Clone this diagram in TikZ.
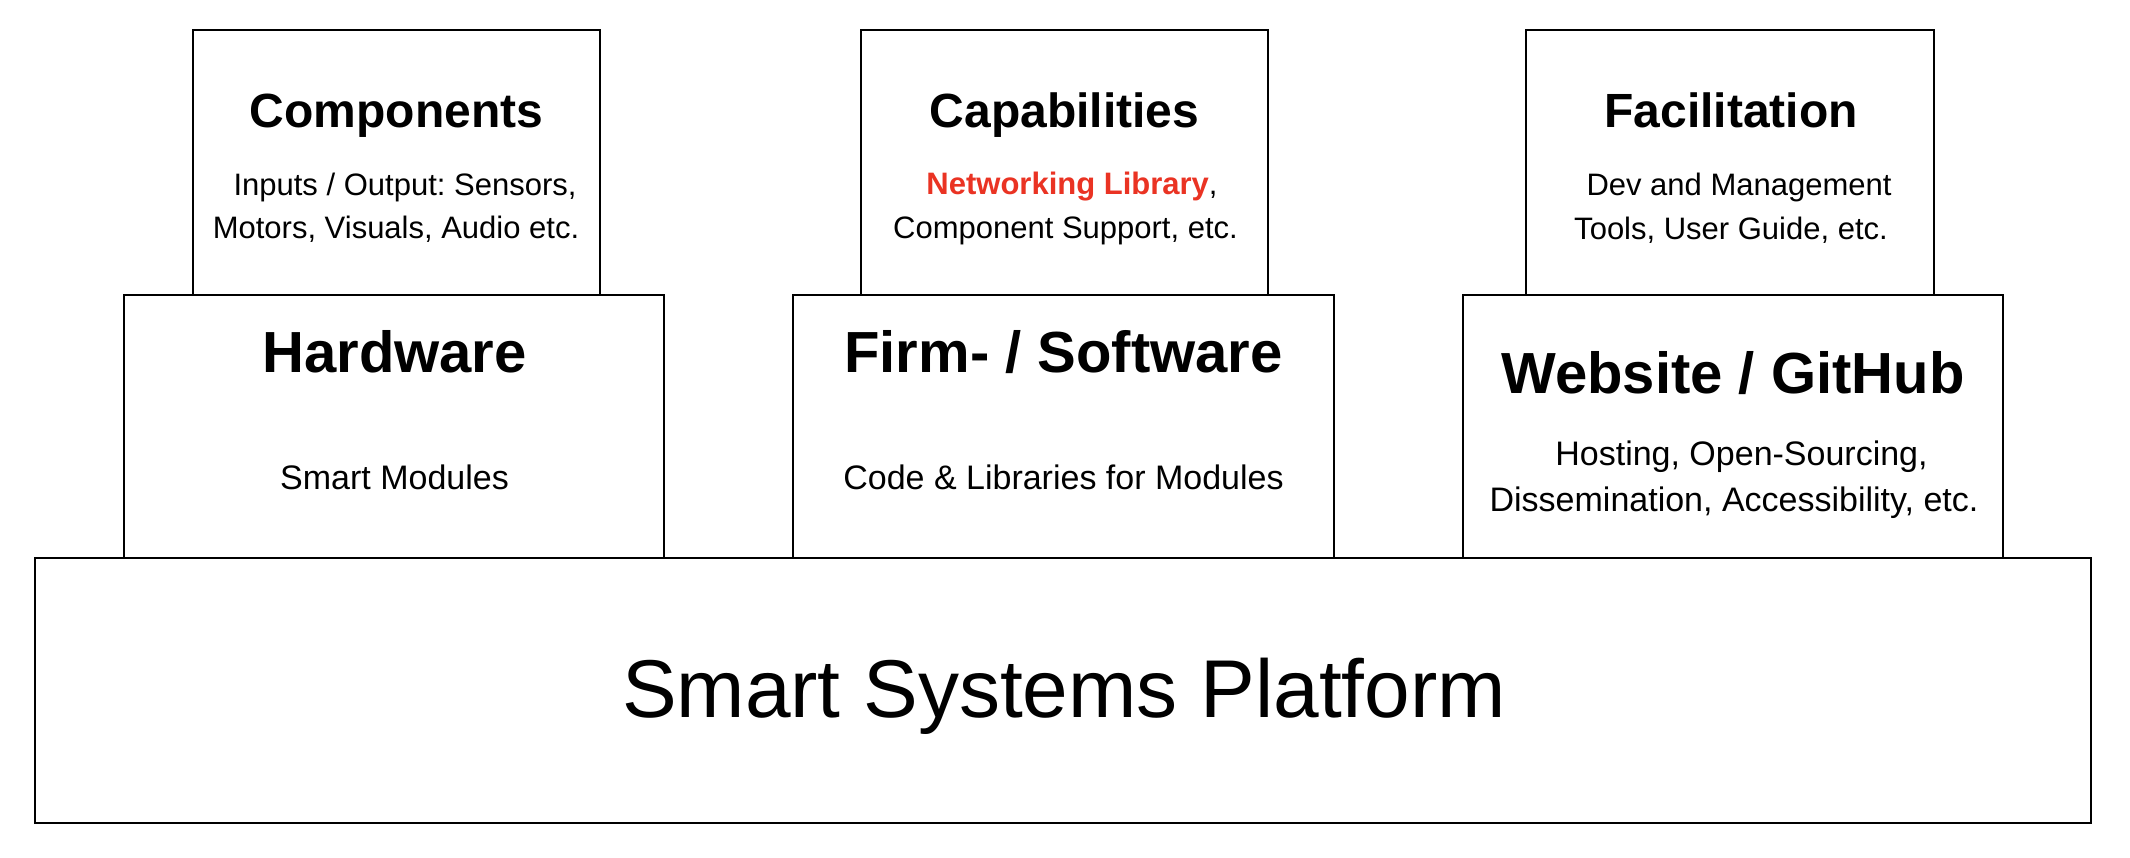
\documentclass[tikz,border=0pt]{standalone}
\usepackage{fontspec}
\setmainfont{Liberation Sans}
\definecolor{netred}{RGB}{234,51,35}
\frenchspacing
\begin{document}
\begin{tikzpicture}[x=1pt,y=-1pt,
  box/.style={draw=black,line width=2.4pt,fill=white,rectangle,inner sep=0pt},
  lbl/.style={anchor=base,inner sep=0pt,outer sep=0pt},
  ttl/.style={lbl,font=\fontsize{48}{48}\selectfont\bfseries},
  bigttl/.style={lbl,font=\fontsize{58}{58}\selectfont\bfseries},
  smtxt/.style={lbl,font=\fontsize{31}{31}\selectfont},
  mdtxt/.style={lbl,font=\fontsize{34}{34}\selectfont},
  hugetxt/.style={lbl,font=\fontsize{82}{82}\selectfont}]
\useasboundingbox (0,0) rectangle (2130,858);
\fill[white] (0,0) rectangle (2130,858);

% base
\node[box,minimum width=2056pt,minimum height=265pt] (platform) at (1063,690.5) {};
% middle row
\node[box,minimum width=540pt,minimum height=263pt] (hardware) at (394,426.5) {};
\node[box,minimum width=541pt,minimum height=263pt] (firmware) at (1063.5,426.5) {};
\node[box,minimum width=540pt,minimum height=263pt] (website) at (1733,426.5) {};
% top row
\node[box,minimum width=407pt,minimum height=265pt] (components) at (396.5,162.5) {};
\node[box,minimum width=407pt,minimum height=265pt] (capabilities) at (1064.5,162.5) {};
\node[box,minimum width=408pt,minimum height=265pt] (facilitation) at (1730,162.5) {};

% texts: components
\node[ttl] (tcomp) at (396.5,128) {Components};
\node[smtxt] (tcomp1) at (405,196) {Inputs / Output: Sensors,};
\node[smtxt] (tcomp2) at (396,239) {Motors, Visuals, Audio etc.};
% capabilities
\node[ttl] (tcap) at (1064.5,128) {Capabilities};
\node[smtxt] (tcap1) at (1072,195) {\textcolor{netred}{\bfseries Networking Library},};
\node[smtxt] (tcap2) at (1065.5,239) {Component Support, etc.};
% facilitation
\node[ttl] (tfac) at (1731,128) {Facilitation};
\node[smtxt] (tfac1) at (1739,196) {Dev and Management};
\node[smtxt] (tfac2) at (1731,240) {Tools, User Guide, etc.};
% hardware
\node[bigttl] (thw) at (394.5,372) {Hardware};
\node[mdtxt] (thw1) at (394.5,489) {Smart Modules};
% firmware
\node[bigttl] (tfw) at (1063.5,372) {Firm- / Software};
\node[mdtxt] (tfw1) at (1063.5,489) {Code \& Libraries for Modules};
% website
\node[bigttl] (tweb) at (1733,393) {Website / GitHub};
\node[mdtxt] (tweb1) at (1741.5,465) {Hosting, Open-Sourcing,};
\node[mdtxt] (tweb2) at (1734,511) {Dissemination, Accessibility, etc.};
% platform
\node[hugetxt] (tplat) at (1064,717.5) {Smart Systems Platform};
\end{tikzpicture}
\end{document}
